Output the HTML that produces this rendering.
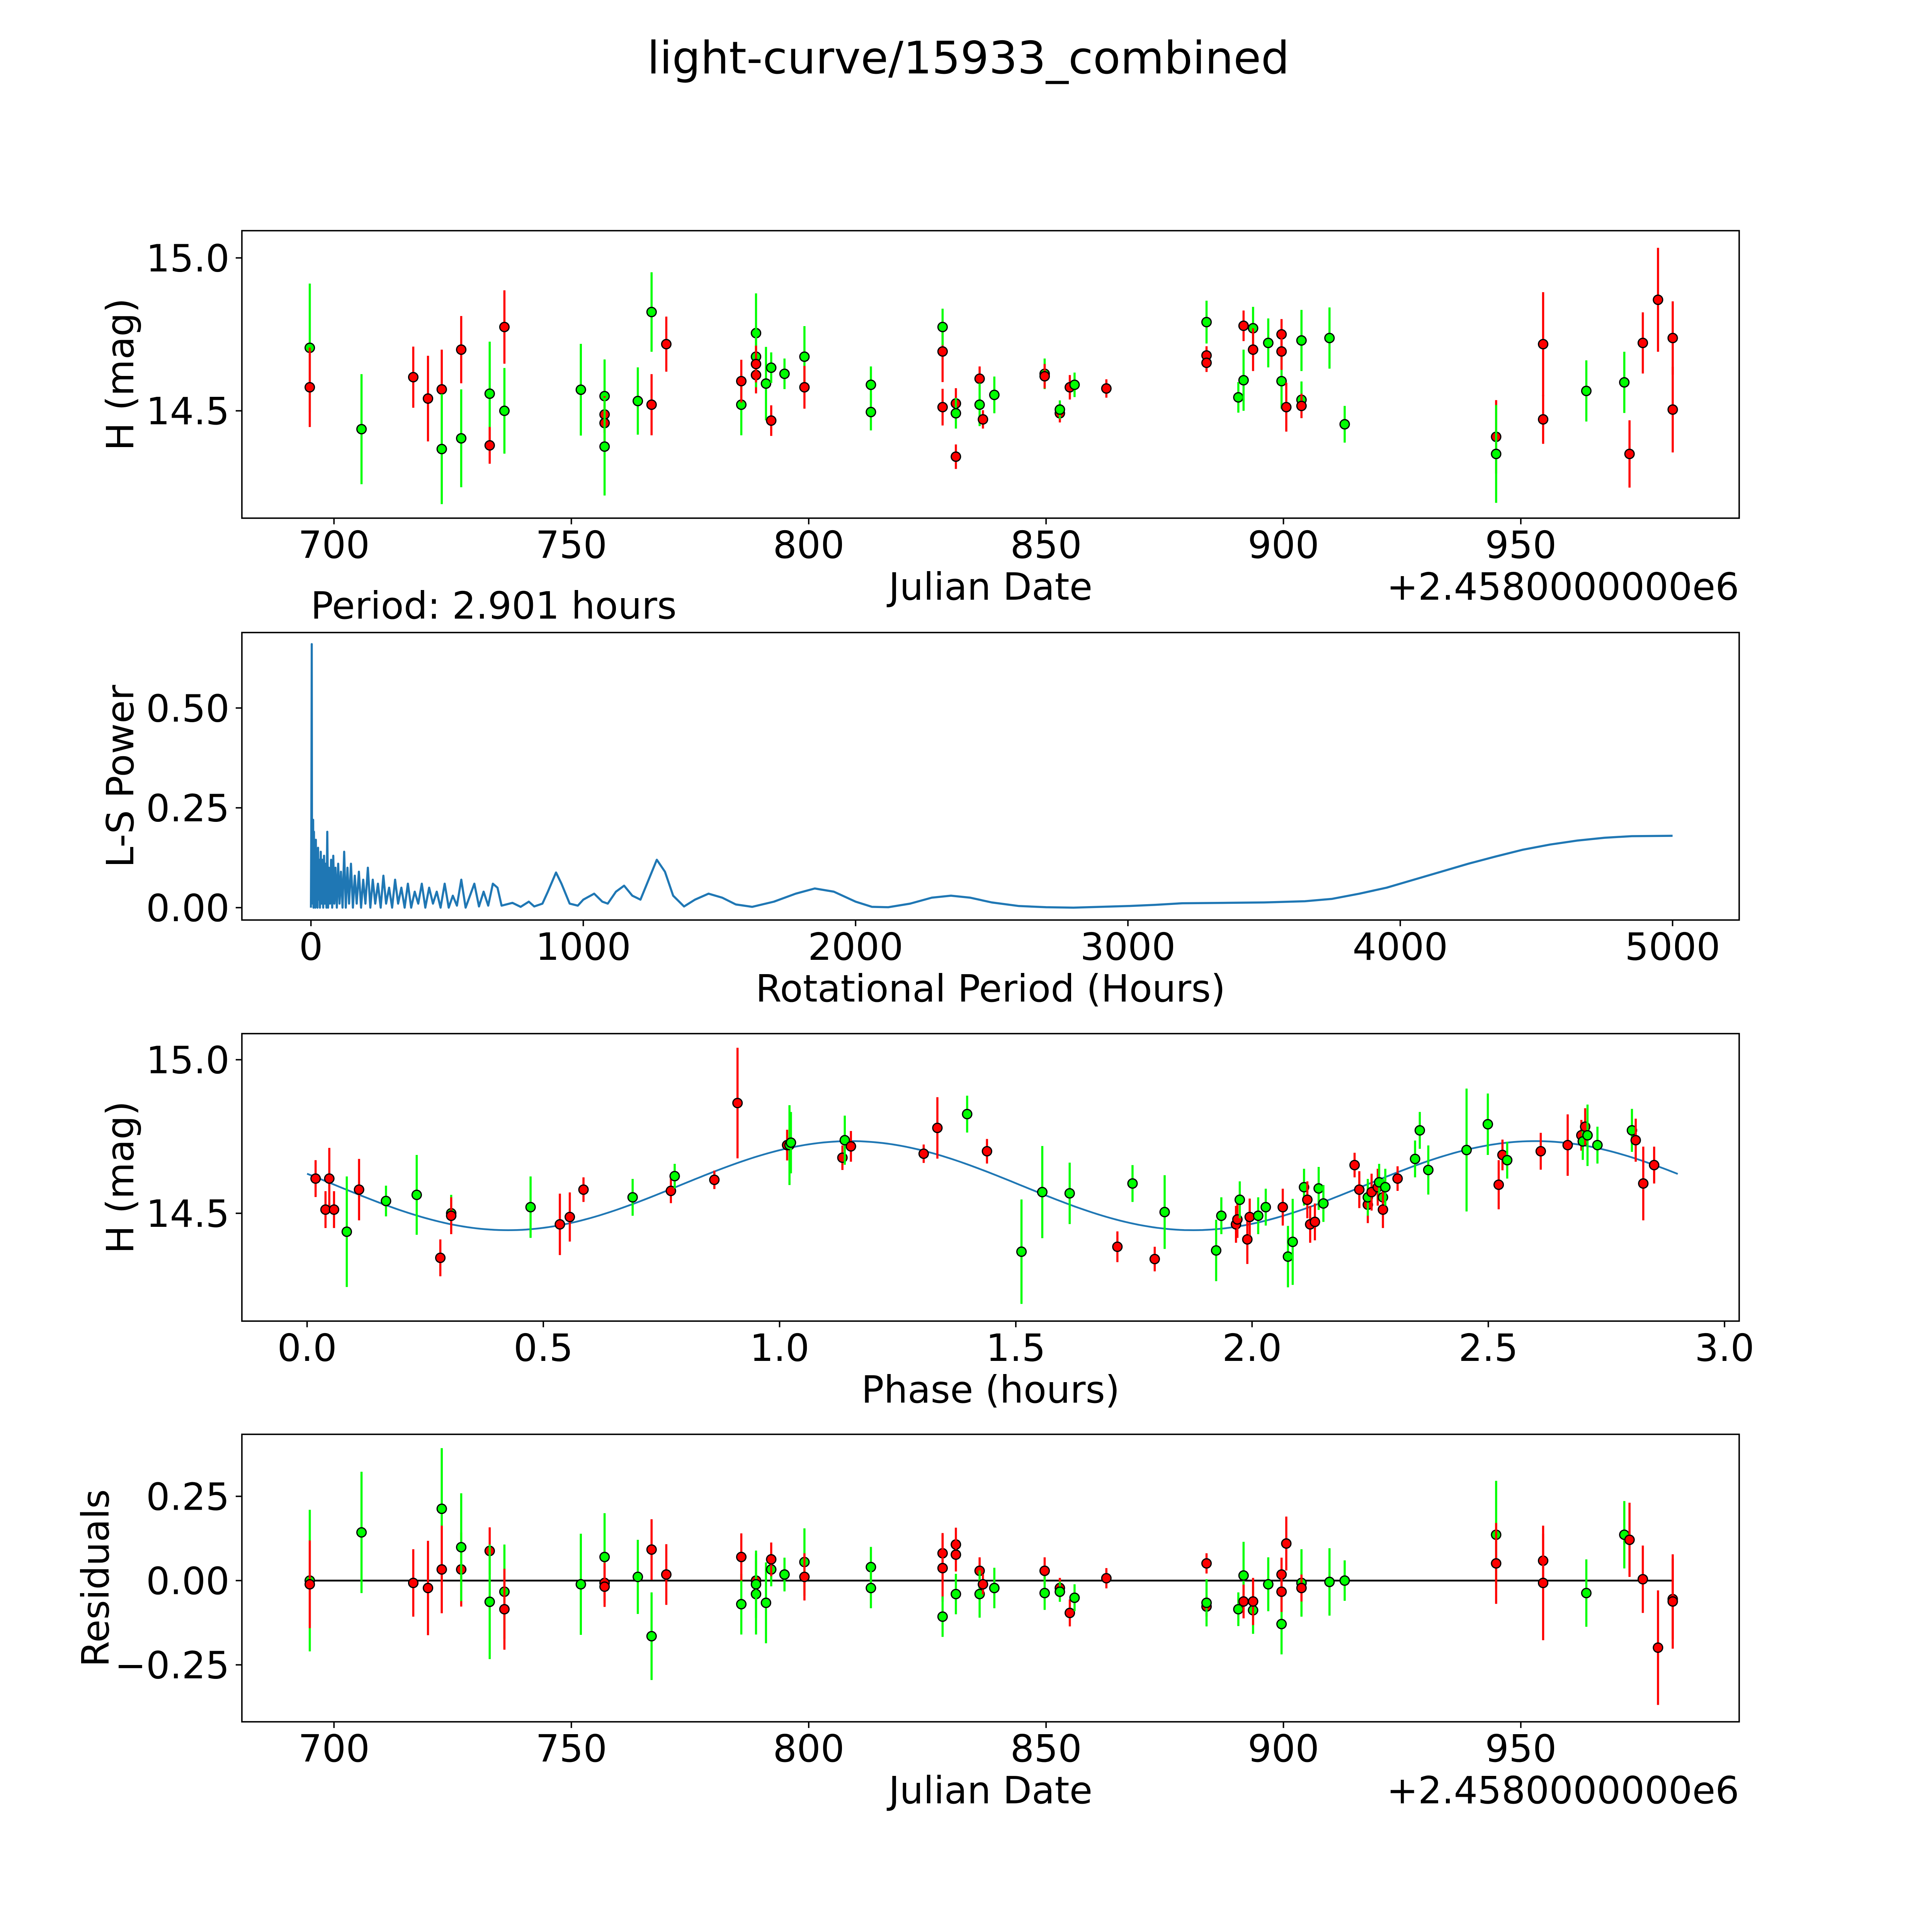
<!DOCTYPE html>
<html><head><meta charset="utf-8"><style>
html,body{margin:0;padding:0;background:#fff;overflow:hidden;width:5400px;height:5400px;}
svg{display:block;font-family:"DejaVu Sans","Liberation Sans",sans-serif;}
</style></head><body>
<svg id="fig" xmlns="http://www.w3.org/2000/svg" width="5400" height="5400" viewBox="0 0 5400 5400">
<rect x="0" y="0" width="5400" height="5400" fill="#fff"/>
<text x="2506" y="190" font-size="116" text-anchor="middle">light-curve/15933_combined</text>
</svg>
<script>
// ---------- Panel 1: light curve ----------
const lcJD = [694.9,694.9,705.8,716.7,719.8,722.7,722.7,726.8,726.8,732.8,732.8,735.9,735.9,752.0,757.0,757.0,757.0,757.0,764.0,766.9,766.9,770.0,785.8,785.8,788.9,788.9,788.9,788.9,791.0,792.1,792.1,794.9,799.1,799.1,813.1,813.1,828.2,828.2,828.2,831.0,831.0,831.0,836.0,836.0,836.7,839.1,849.7,849.7,852.9,852.9,855.0,856.0,862.7,883.8,883.8,883.8,890.5,891.6,891.6,893.6,893.6,896.8,899.6,899.6,899.6,900.6,903.8,903.8,903.8,909.7,912.9,944.8,944.8,954.7,954.7,963.8,971.8,972.9,975.7,978.9,982.0,982.0];
const lcMag = [14.706,14.577,14.44,14.61,14.54,14.57,14.375,14.70,14.41,14.556,14.387,14.774,14.50,14.569,14.548,14.488,14.46,14.383,14.532,14.823,14.52,14.718,14.52,14.597,14.617,14.754,14.677,14.653,14.589,14.641,14.468,14.621,14.677,14.577,14.585,14.496,14.694,14.774,14.512,14.524,14.492,14.35,14.605,14.52,14.472,14.552,14.621,14.613,14.492,14.504,14.577,14.585,14.573,14.681,14.657,14.79,14.544,14.6,14.778,14.77,14.70,14.722,14.597,14.75,14.694,14.512,14.73,14.536,14.516,14.738,14.456,14.415,14.359,14.472,14.718,14.565,14.593,14.359,14.722,14.863,14.738,14.504];
const lcErr = [0.21,0.13,0.18,0.1,0.14,0.13,0.18,0.11,0.16,0.17,0.06,0.12,0.14,0.15,0.12,0.06,0.06,0.16,0.11,0.13,0.1,0.09,0.1,0.07,0.06,0.13,0.1,0.06,0.12,0.05,0.05,0.05,0.1,0.07,0.06,0.06,0.1,0.06,0.06,0.05,0.05,0.04,0.04,0.07,0.03,0.06,0.05,0.04,0.03,0.03,0.04,0.04,0.03,0.03,0.03,0.07,0.05,0.1,0.05,0.07,0.07,0.08,0.09,0.05,0.06,0.08,0.1,0.06,0.04,0.1,0.06,0.12,0.16,0.08,0.17,0.1,0.1,0.11,0.1,0.17,0.12,0.14];
const lcBand = "GRGRRRGRGGRRGGGRRGGGRRGRRGGRGGRGGRGGRGRRGRRGRGGRRGRGRRRGGGRGRGGRRRGGRGGRGRRGGRRRRRRG";

// ---------- Panel 2: periodogram ----------
const lsPeriod = [0,1.5,2.9,4,5,6.5,8,9.5,11,12.5,14,16,18,20,22,24,26,28,30,33,36,39,42,45,48,51,54,57,60,63,66,70,74,78,82,86,90,95,100,105,110,116,122,128,134,140,147,154,161,168,176,184,192,200,209,218,227,236,246,256,266,276,287,298,309,320,332,344,356,368,381,394,407,420,434,448,462,476,491,506,521,536,552,568,584,600,617,634,651,668,685,700,740,770,800,820,850,870,900,920,950,980,1000,1040,1070,1090,1120,1150,1180,1210,1240,1270,1300,1330,1370,1410,1460,1510,1560,1620,1700,1780,1850,1920,2000,2060,2120,2200,2280,2350,2420,2500,2600,2700,2800,2900,3000,3100,3200,3350,3500,3650,3750,3850,3950,4050,4150,4250,4350,4450,4550,4650,4750,4850,5000];
const lsPower = [0.0,0.23,0.66,0.02,0.2,0.01,0.22,0.0,0.19,0.02,0.16,0.0,0.17,0.01,0.13,0.0,0.15,0.02,0.12,0.0,0.14,0.01,0.12,0.0,0.13,0.01,0.11,0.0,0.19,0.0,0.1,0.01,0.12,0.0,0.13,0.01,0.1,0.0,0.11,0.01,0.09,0.0,0.14,0.0,0.1,0.01,0.11,0.0,0.08,0.01,0.09,0.0,0.07,0.01,0.1,0.0,0.07,0.01,0.06,0.0,0.08,0.01,0.05,0.0,0.07,0.01,0.05,0.0,0.06,0.0,0.04,0.01,0.06,0.0,0.05,0.01,0.04,0.0,0.06,0.0,0.03,0.005,0.07,0.0,0.03,0.06,0.003,0.04,0.005,0.06,0.05,0.005,0.012,0.002,0.015,0.003,0.01,0.04,0.088,0.06,0.01,0.005,0.02,0.035,0.015,0.01,0.04,0.055,0.03,0.02,0.07,0.12,0.09,0.03,0.003,0.02,0.035,0.025,0.008,0.002,0.015,0.035,0.048,0.04,0.015,0.002,0.001,0.01,0.025,0.03,0.025,0.013,0.004,0.001,0.0,0.002,0.004,0.007,0.011,0.012,0.013,0.016,0.022,0.035,0.05,0.07,0.09,0.11,0.128,0.145,0.158,0.168,0.175,0.179,0.18];

// ---------- Panel 3: phased curve ----------
const phPhase = [0.018,0.047,0.039,0.057,0.084,0.110,0.167,0.232,0.282,0.305,0.305,0.473,0.535,0.556,0.585,0.689,0.770,0.778,0.862,0.911,1.016,1.021,1.024,1.133,1.138,1.151,1.305,1.334,1.397,1.439,1.512,1.556,1.614,1.715,1.747,1.794,1.815,1.924,1.935,1.966,1.969,1.974,1.990,1.995,2.013,2.029,2.065,2.076,2.086,2.110,2.117,2.123,2.133,2.141,2.151,2.217,2.227,2.245,2.245,2.253,2.266,2.269,2.277,2.277,2.282,2.308,2.345,2.355,2.373,2.454,2.499,2.522,2.530,2.540,2.611,2.668,2.697,2.700,2.705,2.710,2.731,2.804,2.812,2.828,2.851];
const phMag = [14.613,14.613,14.512,14.512,14.440,14.577,14.540,14.560,14.355,14.500,14.492,14.520,14.464,14.488,14.577,14.552,14.573,14.621,14.609,14.859,14.722,14.722,14.730,14.681,14.738,14.718,14.694,14.778,14.823,14.702,14.375,14.569,14.565,14.391,14.597,14.351,14.504,14.379,14.492,14.464,14.480,14.544,14.415,14.488,14.492,14.520,14.520,14.359,14.407,14.585,14.544,14.464,14.472,14.581,14.532,14.657,14.577,14.528,14.552,14.569,14.585,14.601,14.552,14.512,14.585,14.613,14.677,14.770,14.641,14.706,14.790,14.593,14.690,14.673,14.702,14.722,14.754,14.734,14.782,14.754,14.722,14.770,14.738,14.597,14.657];
const phErr = [0.06,0.1,0.06,0.06,0.18,0.1,0.05,0.13,0.06,0.06,0.06,0.1,0.1,0.08,0.04,0.06,0.04,0.04,0.03,0.18,0.05,0.13,0.1,0.04,0.08,0.05,0.03,0.1,0.06,0.04,0.17,0.15,0.1,0.05,0.06,0.04,0.12,0.1,0.06,0.06,0.06,0.06,0.08,0.06,0.06,0.06,0.06,0.1,0.14,0.06,0.06,0.06,0.06,0.07,0.06,0.04,0.06,0.06,0.06,0.06,0.06,0.06,0.06,0.06,0.06,0.04,0.06,0.06,0.08,0.2,0.1,0.08,0.05,0.06,0.06,0.1,0.05,0.06,0.06,0.1,0.06,0.07,0.07,0.12,0.06];
const phBand = "RRRRGRGGRGRGRRRGRGRRRGGRGRRRGRGGGRGRGGGRRGRRGGRGGGRRRGGRRRGRRGGRGRGGGGGRRGRRRGRGGGRRR";
const fitMean = [14.59];
const fitAmp = [0.145];
const fitPeakPhase = [1.15];
const fitCycle = [1.45];
const fitRange = [0, 2.901];

// ---------- Panel 4: residuals ----------
const resJD = [694.9,694.9,705.8,716.7,719.8,722.7,722.7,726.8,726.8,732.8,732.8,735.9,735.9,752.0,757.0,757.0,757.0,764.0,766.9,766.9,770.0,785.8,785.8,788.9,788.9,788.9,791.0,792.1,792.1,794.9,799.1,799.1,813.1,813.1,828.2,828.2,828.2,831.0,831.0,831.0,836.0,836.0,836.7,839.1,849.7,849.7,852.9,852.9,855.0,856.0,862.7,883.8,883.8,883.8,890.5,891.6,891.6,893.6,893.6,896.8,899.6,899.6,899.6,900.6,903.8,903.8,909.7,912.9,944.8,944.8,954.7,954.7,963.8,971.8,972.9,975.7,978.9,982.0,982.0];
const resVal = [0.000,-0.011,0.143,-0.007,-0.022,0.213,0.033,0.033,0.099,0.088,-0.063,-0.033,-0.085,-0.011,0.070,-0.007,-0.018,0.011,-0.165,0.092,0.018,-0.070,0.070,0.000,-0.040,-0.011,-0.066,0.033,0.063,0.018,0.055,0.011,0.040,-0.022,0.081,0.037,-0.107,0.107,0.077,-0.040,0.029,-0.040,-0.011,-0.022,0.029,-0.037,-0.022,-0.033,-0.096,-0.051,0.007,0.051,-0.077,-0.066,-0.085,0.015,-0.062,-0.088,-0.062,-0.011,-0.129,0.018,-0.033,0.110,-0.007,-0.022,-0.004,0.000,0.136,0.051,0.059,-0.007,-0.037,0.136,0.121,0.004,-0.199,-0.055,-0.062];
const resErr = [0.21,0.13,0.18,0.1,0.14,0.18,0.13,0.11,0.16,0.07,0.17,0.14,0.12,0.15,0.13,0.06,0.06,0.11,0.13,0.09,0.09,0.09,0.07,0.06,0.12,0.1,0.12,0.05,0.05,0.05,0.1,0.07,0.06,0.06,0.06,0.1,0.06,0.05,0.05,0.06,0.04,0.07,0.03,0.06,0.04,0.05,0.03,0.03,0.04,0.04,0.03,0.03,0.03,0.07,0.05,0.1,0.05,0.07,0.07,0.08,0.09,0.05,0.06,0.08,0.1,0.04,0.1,0.06,0.16,0.12,0.08,0.17,0.1,0.1,0.11,0.1,0.17,0.12,0.14];
const resBand = "GRGRRGRRGRGGRGGRRGGRRGRRGGGGRGGRGGRRGRRGRGRGRGRGRGRRRGGGRGRGGRRRGRGGGRRRGGRRRRRRG";

const jdTicks = [700,750,800,850,900,950];
const jdTickLabels = ["700","750","800","850","900","950"];
const magTicks = [14.5,15.0];
const magTickLabels = ["14.5","15.0"];
const lsXTicks = [0,1000,2000,3000,4000,5000];
const lsXTickLabels = ["0","1000","2000","3000","4000","5000"];
const lsYTicks = [0,0.25,0.5];
const lsYTickLabels = ["0.00","0.25","0.50"];
const phTicks = [0,0.5,1,1.5,2,2.5,3];
const phTickLabels = ["0.0","0.5","1.0","1.5","2.0","2.5","3.0"];
const resTicks = [-0.25,0,0.25];
const resTickLabels = ["\u22120.25","0.00","0.25"];

const NS = "http://www.w3.org/2000/svg";
const svg = document.getElementById('fig');
const L = 626, R = 4501, H = 744;
const TOPS = [597, 1637, 2675, 3712];
const FS = 97;

function mk(tag, attrs, parent) {
  const e = document.createElementNS(NS, tag);
  for (const k in attrs) e.setAttribute(k, attrs[k]);
  (parent || svg).appendChild(e);
  return e;
}
function scale(d0, d1, p0, p1) { return v => p0 + (v - d0) / (d1 - d0) * (p1 - p0); }

function makeAxes(idx, xmin, xmax, ymin, ymax, name) {
  const top = TOPS[idx], bot = top + H;
  const g = mk('g', {});
  
  
  return { g, top, bot, x: scale(xmin, xmax, L, R), y: scale(ymin, ymax, bot, top) };
}
function frame(ax) {
  const r = mk('rect', { x: L, y: ax.top, width: R - L, height: H, fill: 'none', stroke: '#000', 'stroke-width': 3.7 }, ax.g);
  
  
}
function xTicks(ax, ticks, labels) {
  const g = mk('g', {}, ax.g);
  
  
  ticks.forEach((t, i) => {
    const px = ax.x(t);
    mk('line', { x1: px, x2: px, y1: ax.bot, y2: ax.bot + 16, stroke: '#000', 'stroke-width': 3.7 }, g);
    const tx = mk('text', { x: px, y: ax.bot + 103, 'font-size': FS, 'text-anchor': 'middle' }, g);
    tx.textContent = labels[i];
    
    
  });
}
function yTicks(ax, ticks, labels) {
  const g = mk('g', {}, ax.g);
  
  
  ticks.forEach((t, i) => {
    const py = ax.y(t);
    mk('line', { x1: L - 16, x2: L, y1: py, y2: py, stroke: '#000', 'stroke-width': 3.7 }, g);
    const tx = mk('text', { x: L - 32, y: py + 35, 'font-size': FS, 'text-anchor': 'end' }, g);
    tx.textContent = labels[i];
    
    
  });
}
function xLabel(ax, text, name) {
  const t = mk('text', { x: (L + R) / 2, y: ax.bot + 211, 'font-size': FS, 'text-anchor': 'middle' }, ax.g);
  t.textContent = text;
  
  
}
function yLabel(ax, text, cx, name) {
  const cy = (ax.top + ax.bot) / 2;
  const t = mk('text', { x: cx, y: cy, 'font-size': FS, 'text-anchor': 'middle', transform: 'rotate(-90 ' + cx + ' ' + cy + ')' }, ax.g);
  t.textContent = text;
  
  
}
function offsetText(ax) {
  const t = mk('text', { x: R, y: ax.bot + 211, 'font-size': FS, 'text-anchor': 'end' }, ax.g);
  t.textContent = '+2.4580000000e6';
  
  
}
function errPoints(ax, xs, ys, es, bands, name) {
  const g = mk('g', {}, ax.g);
  
  
  for (let i = 0; i < xs.length; i++) {
    const col = bands[i] === 'R' ? '#ff0000' : '#00ff00';
    const px = ax.x(xs[i]);
    const ln = mk('line', { x1: px, x2: px, y1: ax.y(ys[i] - es[i]), y2: ax.y(ys[i] + es[i]), stroke: col, 'stroke-width': 5.5 }, g);
    
    
    const c = mk('circle', { cx: px, cy: ax.y(ys[i]), r: 12, fill: col, stroke: '#000', 'stroke-width': 3.2 }, g);
    
    
  }
}

// Panel 1
const a1 = makeAxes(0, 680.6, 996.0, 14.149, 15.089, 'light-curve-panel');
errPoints(a1, lcJD, lcMag, lcErr, lcBand, 'light-curve-points');
frame(a1); xTicks(a1, jdTicks, jdTickLabels); yTicks(a1, magTicks, magTickLabels);
xLabel(a1, 'Julian Date', 'x-axis-title'); yLabel(a1, 'H (mag)', 345, 'y-axis-title'); offsetText(a1);

// Panel 2
const a2 = makeAxes(1, -253.6, 5244.6, -0.031, 0.689, 'periodogram-panel');
{
  let d = '';
  lsPeriod.forEach((p, i) => { d += (i ? 'L' : 'M') + a2.x(p).toFixed(1) + ' ' + a2.y(lsPower[i]).toFixed(1); });
  const pl = mk('path', { d, fill: 'none', stroke: '#1f77b4', 'stroke-width': 5.5, 'stroke-linejoin': 'round' }, a2.g);
  
  
}
frame(a2); xTicks(a2, lsXTicks, lsXTickLabels); yTicks(a2, lsYTicks, lsYTickLabels);
xLabel(a2, 'Rotational Period (Hours)', 'x-axis-title'); yLabel(a2, 'L-S Power', 345, 'y-axis-title');
{
  const t = mk('text', { x: 804, y: a2.top - 36, 'font-size': FS }, a2.g);
  t.textContent = 'Period: 2.901 hours';
  
  
}

// Panel 3
const a3 = makeAxes(2, -0.138, 3.031, 14.149, 15.085, 'phased-curve-panel');
{
  let d = '';
  const n = 300;
  for (let k = 0; k <= n; k++) {
    const p = fitRange[0] + (fitRange[1] - fitRange[0]) * k / n;
    const m = fitMean[0] + fitAmp[0] * Math.cos(2 * Math.PI * (p - fitPeakPhase[0]) / fitCycle[0]);
    d += (k ? 'L' : 'M') + a3.x(p).toFixed(1) + ' ' + a3.y(m).toFixed(1);
  }
  const pl = mk('path', { d, fill: 'none', stroke: '#1f77b4', 'stroke-width': 4.6 }, a3.g);
  
  
}
errPoints(a3, phPhase, phMag, phErr, phBand, 'phased-points');
frame(a3); xTicks(a3, phTicks, phTickLabels); yTicks(a3, magTicks, magTickLabels);
xLabel(a3, 'Phase (hours)', 'x-axis-title'); yLabel(a3, 'H (mag)', 345, 'y-axis-title');

// Panel 4
const a4 = makeAxes(3, 680.6, 996.0, -0.419, 0.434, 'residuals-panel');
{
  const zl = mk('line', { x1: a4.x(resJD[0]), x2: a4.x(resJD[resJD.length - 1]), y1: a4.y(0), y2: a4.y(0), stroke: '#000', 'stroke-width': 4.6 }, a4.g);
  
  
}
errPoints(a4, resJD, resVal, resErr, resBand, 'residual-points');
frame(a4); xTicks(a4, jdTicks, jdTickLabels); yTicks(a4, resTicks, resTickLabels);
xLabel(a4, 'Julian Date', 'x-axis-title'); yLabel(a4, 'Residuals', 281, 'y-axis-title'); offsetText(a4);
</script>
</body></html>
